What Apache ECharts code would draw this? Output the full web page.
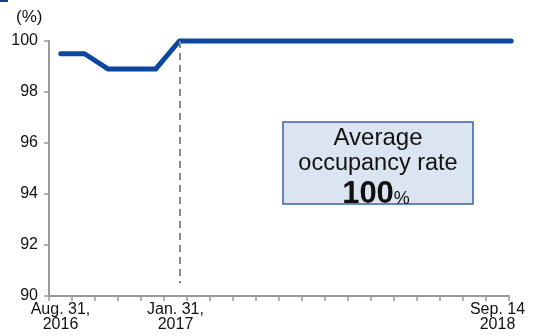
<!DOCTYPE html>
<html>
<head>
<meta charset="utf-8">
<script src="https://cdn.jsdelivr.net/npm/echarts@6/dist/echarts.min.js"></script>
<style>
  html, body { margin: 0; padding: 0; background: #fff; }
  #chart { width: 538px; height: 336px; }
</style>
</head>
<body>
<div id="chart"></div>
<script>
// Period labels (month-end points), only a few are labelled on the axis
const categories = [
  'Aug. 31,\n2016', 'Sep', 'Oct', 'Nov', 'Dec', 'Jan. 31,\n2017',
  'Feb', 'Mar', 'Apr', 'May', 'Jun', 'Jul', 'Aug', 'Sep', 'Oct', 'Nov',
  'Dec', 'Jan', 'Feb', 'Sep. 14\n2018'
];
const labelledIndexes = [0, 5, 19];

// Occupancy rate (%)
const occupancy = [
  99.5, 99.5, 98.9, 98.9, 98.9, 100,
  100, 100, 100, 100, 100, 100, 100, 100, 100, 100,
  100, 100, 100, 100
];

const yTicks = [90, 92, 94, 96, 98, 100];
const markerIndex = 5;
const averageRate = 100;

const chart = echarts.init(document.getElementById('chart'));
const axisGray = '#9a9a9a';
const font = 'Liberation Sans, Arial, sans-serif';

chart.setOption({
  animation: false,
  grid: [
    { left: 49, right: 29, top: 41, bottom: 40 },
    { left: 49, right: 15, top: 41, bottom: 40 }
  ],
  xAxis: [
    {
      type: 'category', gridIndex: 0, data: categories, boundaryGap: true,
      axisLine: { lineStyle: { color: axisGray, width: 2 } },
      axisTick: { show: true, length: 5, lineStyle: { color: axisGray, width: 1.5 }, interval: 0 },
      axisLabel: {
        interval: 0,
        color: '#111', fontFamily: font, fontSize: 16, lineHeight: 15, margin: 6,
        formatter: (v, i) => labelledIndexes.includes(i) ? v : ''
      }
    },
    {
      type: 'category', gridIndex: 1, data: categories, boundaryGap: true,
      show: false
    }
  ],
  yAxis: [
    {
      type: 'value', gridIndex: 0, min: 90, max: 100, interval: 2,
      axisLine: { show: true, lineStyle: { color: axisGray, width: 2 } },
      axisTick: { show: true, length: 5, lineStyle: { color: axisGray, width: 1.5 } },
      splitLine: { show: false },
      axisLabel: { color: '#111', fontFamily: font, fontSize: 16, margin: 11,
        formatter: (v) => yTicks.includes(v) ? String(v) : '' }
    },
    { type: 'value', gridIndex: 1, min: 90, max: 100, show: false }
  ],
  series: [
    {
      type: 'line', xAxisIndex: 1, yAxisIndex: 1, data: occupancy,
      symbol: 'none', clip: false,
      lineStyle: { color: '#0b47a0', width: 5, cap: 'round', join: 'round' },
      markLine: {
        symbol: 'none', silent: true, label: { show: false },
        lineStyle: { color: '#8a8a8a', type: [7, 5], width: 2 },
        data: [[
          { coord: [markerIndex, 100] },
          { coord: [markerIndex, 90.5] }
        ]]
      },
      z: 3
    }
  ],
  graphic: [
    { type: 'rect', x: 0, y: 0, shape: { width: 8, height: 2 }, style: { fill: '#1f3f8f' } },
    { type: 'text', x: 16, y: 9, style: { text: '(%)', font: '17px ' + font, fill: '#111' } },
    {
      type: 'rect', x: 283, y: 122, z: 10,
      shape: { width: 190, height: 82 },
      style: { fill: '#dbe5f1', stroke: '#3762a6', lineWidth: 1.5 }
    },
    {
      type: 'text', x: 378, y: 138, z: 11,
      style: { text: 'Average', font: '24px ' + font, fill: '#111',
        align: 'center', verticalAlign: 'middle' }
    },
    {
      type: 'text', x: 378, y: 164, z: 11,
      style: { text: 'occupancy rate', font: '23.5px ' + font, fill: '#111',
        align: 'center', verticalAlign: 'middle' }
    },
    {
      type: 'text', x: 376, y: 194, z: 11,
      style: {
        text: '{b|' + averageRate + '}{p|%}',
        align: 'center', verticalAlign: 'middle',
        rich: {
          b: { font: 'bold 31px ' + font, fill: '#111', verticalAlign: 'bottom' },
          p: { font: '18px ' + font, fill: '#111', verticalAlign: 'bottom', padding: [0, 0, 1, 0] }
        }
      }
    }
  ]
});
</script>
</body>
</html>
